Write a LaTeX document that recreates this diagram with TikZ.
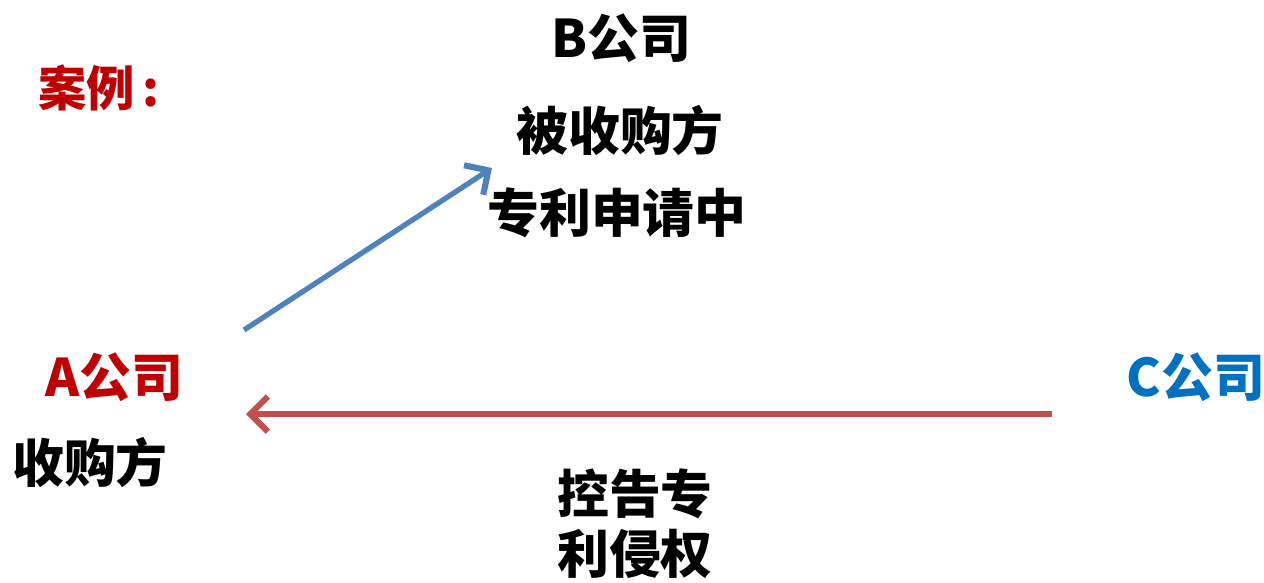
\documentclass[tikz,border=0pt]{standalone}
\usepackage{fontspec}
\usepackage{tikz}
\usetikzlibrary{arrows.meta}
\newfontfamily\cjk{Noto Sans CJK SC}
\definecolor{casered}{RGB}{192,0,0}
\definecolor{compblue}{RGB}{0,112,192}
\definecolor{arrowblue}{RGB}{79,129,189}
\definecolor{arrowred}{RGB}{192,80,77}
\tikzset{
  label/.style={font=\cjk\bfseries\fontsize{29.5}{37}\selectfont, inner sep=0pt, align=center},
  arr/.style={line width=3pt, -{Straight Barb[length=10pt,width=20pt,line width=3.5pt]}}
}

\begin{document}
\begin{tikzpicture}[x=0.02cm,y=-0.02cm]
\useasboundingbox (0,0) rectangle (1264,582);
\node[label,casered,font=\cjk\bfseries\fontsize{27.5}{32}\selectfont] (case) at (99,88) {案例\,:};
\node[label] (bname) at (621,38) {B公司};
\node[label] (target) at (620,130) {被收购方};
\node[label] (patent) at (617,213) {专利申请中};
\node[label,casered] (aname) at (114,377) {A公司};
\node[label] (buyer) at (90,462) {收购方};
\node[label,compblue] (cname) at (1196,377) {C公司};
\node[label,font=\cjk\bfseries\fontsize{29.5}{34}\selectfont] (suit) at (635,524) {控告专\\利侵权};
\coordinate (bstart) at (244,330);
\coordinate (bend) at (492,168);
\coordinate (cstart) at (1052,414);
\coordinate (cend) at (246,414);
\draw[arr,arrowblue] (bstart) -- (bend);
\draw[arr,arrowred,line width=3.5pt] (cstart) -- (cend);
\end{tikzpicture}
\end{document}
